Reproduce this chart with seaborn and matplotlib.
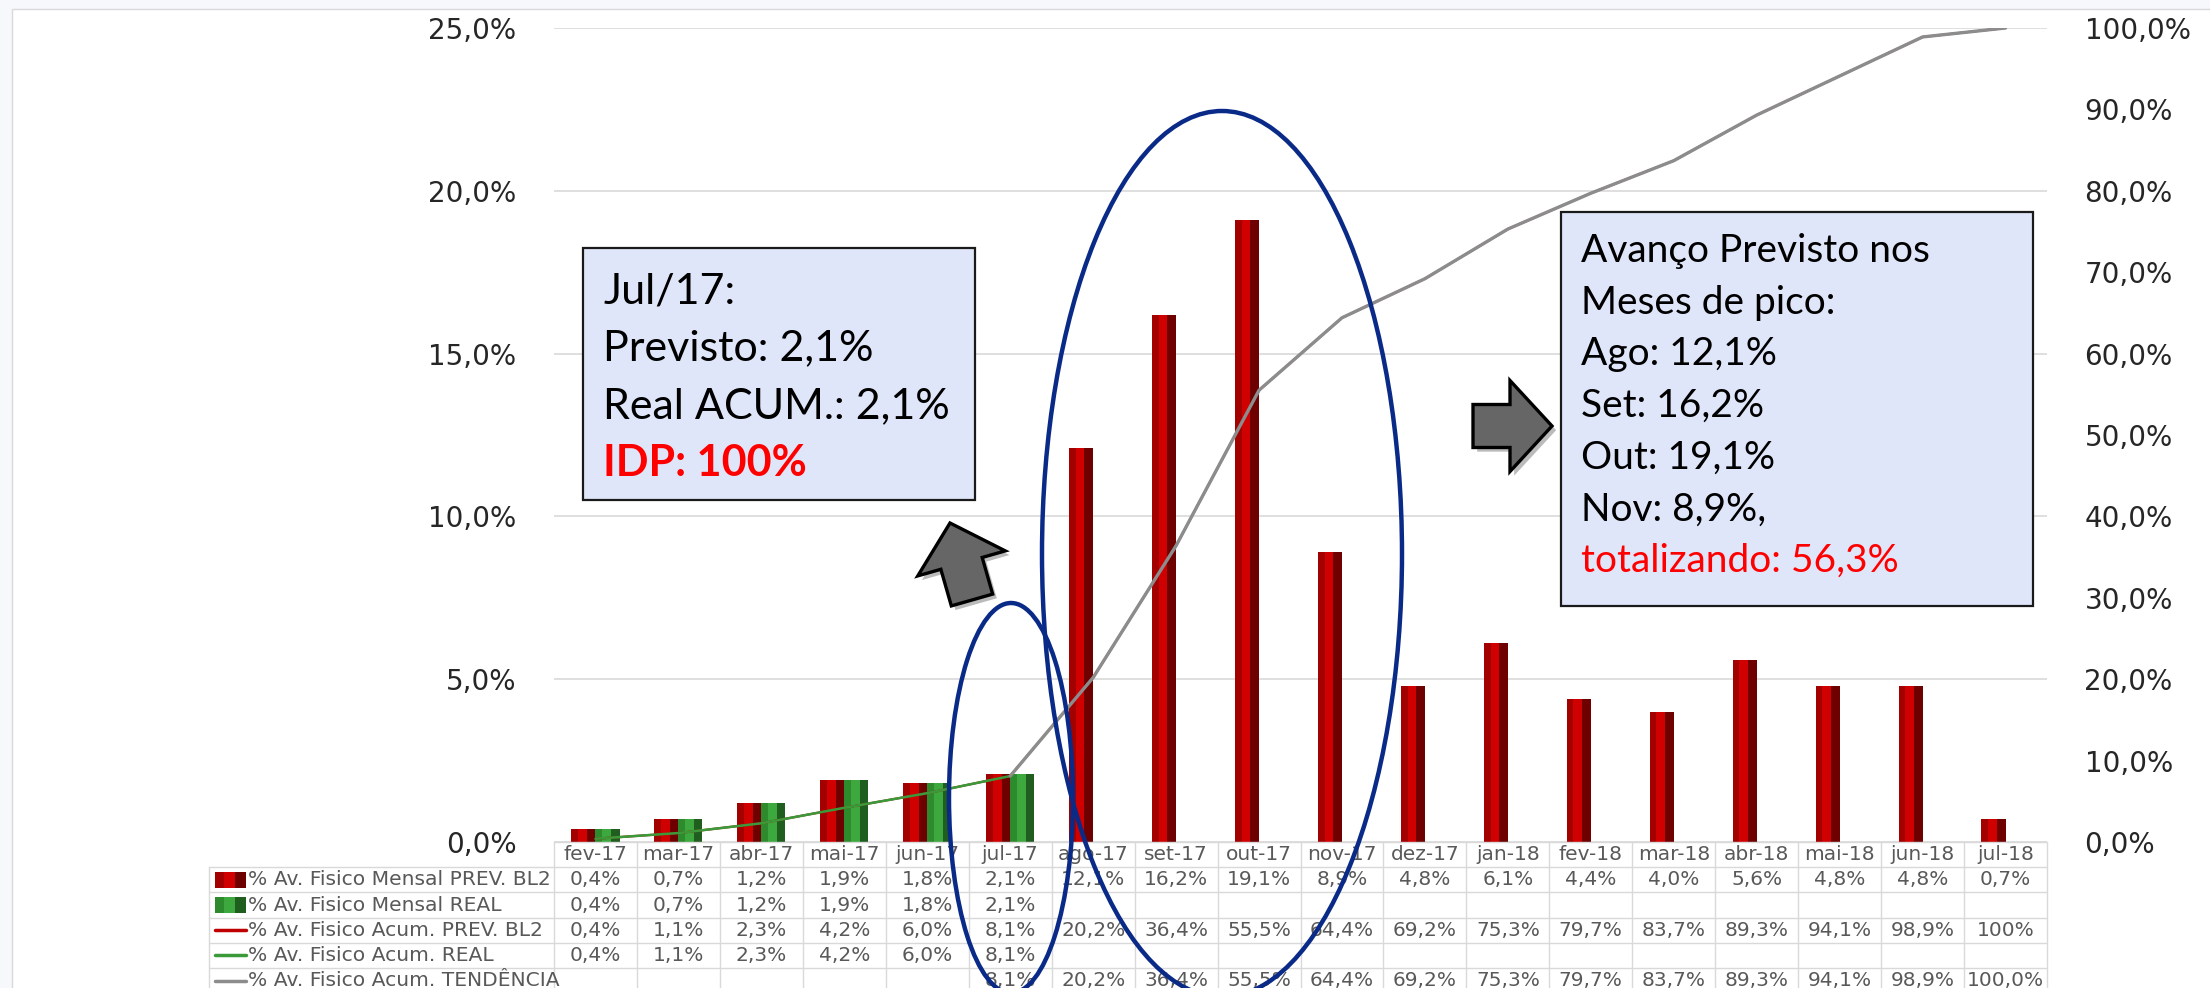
import numpy as np
import pandas as pd
import seaborn as sns
import matplotlib.pyplot as plt
import matplotlib.patheffects as pe
from matplotlib.patches import Rectangle, Ellipse, FancyArrow
from matplotlib.ticker import FuncFormatter

# --- dados ---
meses = ['fev-17', 'mar-17', 'abr-17', 'mai-17', 'jun-17', 'jul-17', 'ago-17', 'set-17',
         'out-17', 'nov-17', 'dez-17', 'jan-18', 'fev-18', 'mar-18', 'abr-18', 'mai-18',
         'jun-18', 'jul-18']
mensal_prev = [0.4, 0.7, 1.2, 1.9, 1.8, 2.1, 12.1, 16.2, 19.1, 8.9, 4.8, 6.1, 4.4, 4.0,
               5.6, 4.8, 4.8, 0.7]
mensal_real = [0.4, 0.7, 1.2, 1.9, 1.8, 2.1] + [np.nan] * 12
acum_prev = [0.4, 1.1, 2.3, 4.2, 6.0, 8.1, 20.2, 36.4, 55.5, 64.4, 69.2, 75.3, 79.7, 83.7,
             89.3, 94.1, 98.9, 100.0]
acum_real = [0.4, 1.1, 2.3, 4.2, 6.0, 8.1] + [np.nan] * 12
acum_tend = [np.nan] * 5 + [8.1, 20.2, 36.4, 55.5, 64.4, 69.2, 75.3, 79.7, 83.7, 89.3,
                            94.1, 98.9, 100.0]

series = ['% Av. Fisico Mensal PREV. BL2', '% Av. Fisico Mensal REAL',
          '% Av. Fisico Acum. PREV. BL2', '% Av. Fisico Acum. REAL',
          '% Av. Fisico Acum. TENDÊNCIA']

box1_lines = ['Jul/17:', 'Previsto: 2,1%', 'Real ACUM.: 2,1%', 'IDP: 100%']
box2_lines = ['Avanço Previsto nos', 'Meses de pico:', 'Ago: 12,1%', 'Set: 16,2%',
              'Out: 19,1%', 'Nov: 8,9%,', 'totalizando: 56,3%']


def pct(v):
    if not np.isfinite(v):
        return ''
    return f'{v:.1f}'.replace('.', ',') + '%'


acum_prev_txt = [pct(v) for v in acum_prev]
acum_prev_txt[-1] = '100%'  # a planilha mostra sem casa decimal
table_rows = [[pct(v) for v in mensal_prev], [pct(v) for v in mensal_real],
              acum_prev_txt, [pct(v) for v in acum_real], [pct(v) for v in acum_tend]]

RED = ('#d00000', '#a30000', '#6e0000')
GREEN = ('#3da83d', '#2d8a2d', '#1f5e1f')
LINE_C = ['#c00000', '#3a9a3a', '#8c8c8c']
GRID = '#d9d9d9'
TXT = '#595959'

W, H = 2210, 988
sns.set_style('white')
plt.rcParams['font.family'] = ['DejaVu Sans']
fig = plt.figure(figsize=(W / 100, H / 100), dpi=100)
fig.patch.set_facecolor('#f6f8fc')
fig.add_artist(Rectangle((12 / W, -0.1), 1.1, (H - 9) / H + 0.1, transform=fig.transFigure,
                         fc='white', ec=GRID, lw=1, zorder=-10))

ax = fig.add_axes([554 / W, (H - 842) / H, 1493 / W, 814 / H])
df = pd.DataFrame({'mes': meses * 2, 'valor': mensal_prev + mensal_real,
                   'serie': [series[0]] * len(meses) + [series[1]] * len(meses)})
sns.barplot(data=df, x='mes', y='valor', hue='serie', order=meses, hue_order=series[:2],
            palette=[RED[0], GREEN[0]], width=0.58, saturation=1, errorbar=None,
            linewidth=0, legend=False, ax=ax)

# efeito chanfrado das barras
for cont, cols in zip(ax.containers, [RED, GREEN]):
    for bar in cont:
        h = bar.get_height()
        if not np.isfinite(h) or h <= 0:
            continue
        x0, w = bar.get_x(), bar.get_width()
        ax.add_patch(Rectangle((x0, 0), w * 0.28, h, fc=cols[1], lw=0, zorder=3))
        ax.add_patch(Rectangle((x0 + w * 0.64, 0), w * 0.36, h, fc=cols[2], lw=0, zorder=3))

ax.set_xlim(-0.5, len(meses) - 0.5)
ax.set_ylim(0, 25)
ax.set_yticks(range(0, 26, 5))
fmt = FuncFormatter(lambda v, _: f'{v:.1f}'.replace('.', ',') + '%')
ax.yaxis.set_major_formatter(fmt)
ax.yaxis.grid(True, color=GRID, lw=1.2)
ax.set_axisbelow(True)
ax.tick_params(axis='y', length=0, pad=27, labelsize=20)
ax.tick_params(axis='x', length=0, labelbottom=False)
ax.set_xlabel('')
ax.set_ylabel('')
sns.despine(ax=ax, left=True, bottom=True)

ax2 = ax.twinx()
pos = np.arange(len(meses))
sns.lineplot(x=pos, y=acum_prev, ax=ax2, color=LINE_C[0], lw=1.6)
sns.lineplot(x=pos, y=acum_real, ax=ax2, color=LINE_C[1], lw=1.8)
sns.lineplot(x=pos, y=acum_tend, ax=ax2, color=LINE_C[2], lw=2.4)
ax2.set_ylim(0, 100)
ax2.set_yticks(range(0, 101, 10))
ax2.yaxis.set_major_formatter(fmt)
ax2.tick_params(axis='y', length=0, pad=27, labelsize=20)
ax2.set_ylabel('')
ax2.set_xlim(-0.5, len(meses) - 0.5)
for s in ax2.spines.values():
    s.set_visible(False)

# --- camada de anotacoes em pixels ---
ov = fig.add_axes([0, 0, 1, 1], zorder=5)
ov.set_xlim(0, W)
ov.set_ylim(H, 0)
ov.axis('off')

x_edges = [ax.transData.transform((i - 0.5, 0))[0] for i in range(len(meses) + 1)]
y_top = H - ax.transData.transform((0, 0))[1]
row_h = 25.2
leg_x = 209

ov.plot([x_edges[0], x_edges[-1]], [y_top, y_top], color=GRID, lw=1)
for r in range(1, 7):
    y = y_top + r * row_h
    ov.plot([leg_x, x_edges[-1]], [y, y], color=GRID, lw=1)
for xe in x_edges:
    ov.plot([xe, xe], [y_top, H], color=GRID, lw=1)
ov.plot([leg_x, leg_x], [y_top + row_h, H], color=GRID, lw=1)

for i, m in enumerate(meses):
    xc = (x_edges[i] + x_edges[i + 1]) / 2
    ov.text(xc, y_top + row_h / 2, m, ha='center', va='center', fontsize=14.5, color=TXT)
    for r, row in enumerate(table_rows):
        ov.text(xc, y_top + (r + 1.5) * row_h, row[i], ha='center', va='center',
                fontsize=14.5, color=TXT)

for r, name in enumerate(series):
    yc = y_top + (r + 1.5) * row_h
    if r < 2:
        cols = RED if r == 0 else GREEN
        ov.add_patch(Rectangle((215, yc - 8), 31, 16, fc=cols[0], lw=0))
        ov.add_patch(Rectangle((215, yc - 8), 9, 16, fc=cols[1], lw=0))
        ov.add_patch(Rectangle((235, yc - 8), 11, 16, fc=cols[2], lw=0))
    else:
        ov.plot([215, 246], [yc, yc], color=LINE_C[r - 2], lw=2.5)
    ov.text(248, yc, name, ha='left', va='center', fontsize=14.6, color=TXT)

# elipses
ELL = '#0a2a88'
ov.add_patch(Ellipse((1222, 554), 360, 886, fill=False, ec=ELL, lw=3.2, zorder=6))
ov.add_patch(Ellipse((1011, 798), 124, 390, fill=False, ec=ELL, lw=3.2, zorder=6))

# setas
shadow = [pe.SimplePatchShadow(offset=(3, -3), alpha=0.3), pe.Normal()]
for (x0, y0, dx, dy) in [(972, 600, -22, -77), (1473, 426, 79, 0)]:
    ov.add_patch(FancyArrow(x0, y0, dx, dy, width=43, head_width=91, head_length=42,
                            length_includes_head=True, fc='#666666', ec='black', lw=2.4,
                            zorder=7, path_effects=shadow))

# caixas de texto
BOX_FC = '#e0e6fa'
ov.add_patch(Rectangle((583, 248), 392, 252, fc=BOX_FC, ec='#1a1a1a', lw=1.6, zorder=7))
for k, line in enumerate(box1_lines):
    last = k == len(box1_lines) - 1
    ov.text(603, 303 + k * 57.5, line, ha='left', va='baseline', fontsize=31,
            family='Lato', color='#ff0000' if last else 'black',
            fontweight='bold' if last else 'normal', zorder=8)

ov.add_patch(Rectangle((1561, 212), 472, 394, fc=BOX_FC, ec='#1a1a1a', lw=1.6, zorder=7))
for k, line in enumerate(box2_lines):
    last = k == len(box2_lines) - 1
    ov.text(1581, 262 + k * 51.7, line, ha='left', va='baseline', fontsize=28,
            family='Lato', color='#ff0000' if last else 'black', zorder=8)

fig.savefig('out.png', dpi=100, facecolor=fig.get_facecolor())
